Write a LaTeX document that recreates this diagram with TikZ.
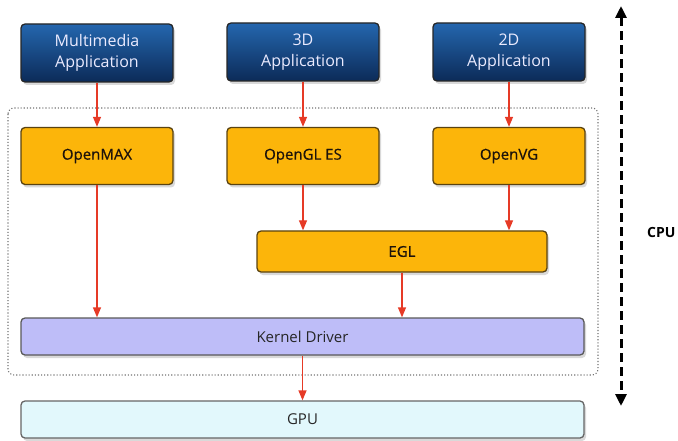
\documentclass[tikz,border=0pt]{standalone}
\usepackage{fontspec}
\setmainfont{Open Sans}
\newfontfamily\semib[FakeBold=0.6]{Open Sans}
\usetikzlibrary{arrows.meta,shadows,shapes.misc}
\definecolor{bluetop}{HTML}{2466AE}
\definecolor{bluebot}{HTML}{0C2B58}
\definecolor{yel}{HTML}{FCB50A}
\definecolor{yelbd}{HTML}{5A4310}
\definecolor{kern}{HTML}{BEBDF8}
\definecolor{gpuc}{HTML}{E2F8FC}
\definecolor{arr}{HTML}{E63A26}
\tikzset{
  box/.style={rounded corners=4pt, line width=1.3pt, inner sep=0pt, align=center,
    drop shadow={shadow xshift=2pt, shadow yshift=-3pt, opacity=0.25, fill=black!60}},
  appbox/.style={box, draw=black!85, top color=bluetop, bottom color=bluebot,
    text=white!92!blue, minimum width=152pt, minimum height=58pt, font=\fontsize{16}{21}\selectfont},
  apibox/.style={box, draw=yelbd, fill=yel, text=black!85!brown,
    minimum width=152pt, minimum height=57pt, font=\semib\fontsize{15}{18}\selectfont},
  flow/.style={draw=arr, line width=1.3pt, -{Triangle[length=10pt,width=8pt]}},
}
\begin{document}
\begin{tikzpicture}[x=1pt,y=-1pt]
\useasboundingbox (0,0) rectangle (678,441);
% dotted CPU-side frame
\draw[black!55, line width=1.1pt, dotted, rounded corners=6pt] (8,108) rectangle (598,375);
% applications
\node[appbox] (mm) at (97,53) {Multimedia\\Application};
\node[appbox] (a3d) at (303,52) {3D\\Application};
\node[appbox] (a2d) at (509,52) {2D\\Application};
% APIs
\node[apibox] (omx) at (97,156) {OpenMAX};
\node[apibox] (ogl) at (303,156) {OpenGL ES};
\node[apibox] (ovg) at (509,156) {OpenVG};
\node[box, draw=yelbd, fill=yel, text=black!85!brown, minimum width=290pt, minimum height=41pt,
  font=\semib\fontsize{15}{18}\selectfont] (egl) at (402,251.5) {EGL};
\node[box, draw=black!65, fill=kern, text=black!85, minimum width=563pt, minimum height=37pt,
  font=\fontsize{15}{18}\selectfont] (kd) at (302.5,336.5) {Kernel Driver};
\node[box, draw=black!60, fill=gpuc, text=black!85, minimum width=563pt, minimum height=37pt,
  font=\fontsize{15}{18}\selectfont] (gpu) at (302.5,419.5) {GPU};
% arrows
\draw[flow] (mm.south) -- (omx.north);
\draw[flow] (a3d.south) -- (ogl.north);
\draw[flow] (a2d.south) -- (ovg.north);
\draw[flow] (omx.south) -- (omx.south |- kd.north);
\draw[flow] (ogl.south) -- (ogl.south |- egl.north);
\draw[flow] (ovg.south) -- (ovg.south |- egl.north);
\draw[flow] (egl.south) -- (egl.south |- kd.north);
\draw[flow] (kd.south) -- (gpu.north);
% CPU arrow
\coordinate (ctop) at (621,6);
\coordinate (cbot) at (621,406);
\draw[line width=3pt, dash pattern=on 9pt off 5pt,
  {Triangle[length=12pt,width=11pt]}-{Triangle[length=12pt,width=11pt]}] (ctop) -- (cbot);
\node[font=\bfseries\fontsize{14}{16}\selectfont, anchor=west, inner sep=0pt] (cpu) at (647,232) {CPU};
\end{tikzpicture}
\end{document}
